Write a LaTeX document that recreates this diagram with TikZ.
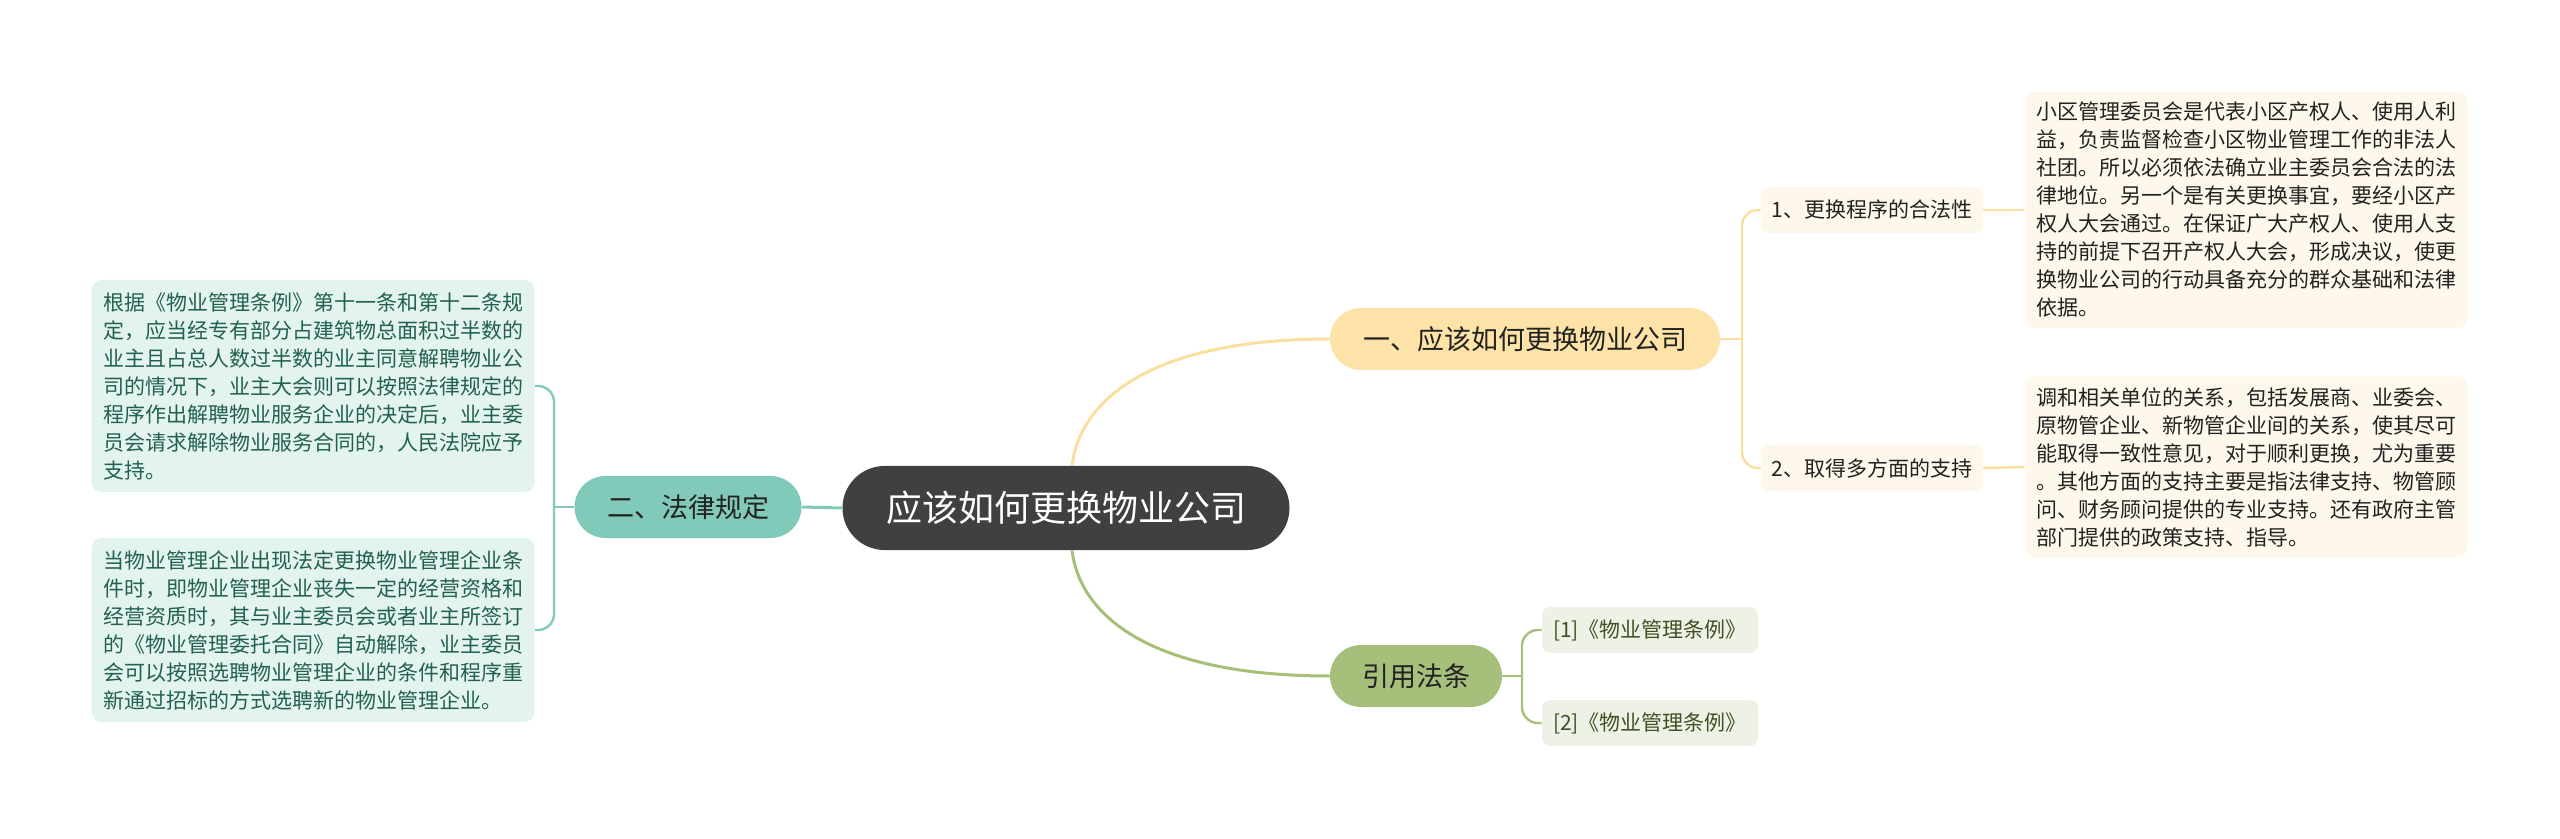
\documentclass[tikz,border=0pt]{standalone}
\usepackage{fontspec}
\setmainfont{Noto Sans CJK SC}

\definecolor{rootgray}{HTML}{404040}
\definecolor{textdark}{HTML}{222222}
\definecolor{yfill}{HTML}{FDE3A7}
\definecolor{yline}{HTML}{FADF9F}
\definecolor{ycream}{HTML}{FDF8EB}
\definecolor{tfill}{HTML}{81C9B9}
\definecolor{tbox}{HTML}{E3F3EF}
\definecolor{ttext}{HTML}{22614F}
\definecolor{gfill}{HTML}{A6BF7B}
\definecolor{gbox}{HTML}{EEF2E6}
\definecolor{gtext}{HTML}{3F5122}

\begin{document}
\begin{tikzpicture}[x=0.5pt, y=-0.5pt,
  rootnode/.style={fill=rootgray, text=white, rounded corners=21pt, minimum width=223.5pt,
    minimum height=42pt, inner sep=0pt, font=\fontsize{18}{22}\selectfont},
  branch/.style={rounded corners=15.5pt, minimum height=31pt, inner sep=0pt, text=textdark,
    font=\fontsize{13.5}{16}\selectfont},
  subtag/.style={rounded corners=4pt, minimum height=23pt, inner sep=0pt,
    font=\fontsize{10.5}{13}\selectfont},
  notebox/.style={rounded corners=5pt, text width=210pt, inner xsep=5.75pt, inner ysep=0pt,
    align=left, font=\fontsize{10.5}{14}\selectfont},
  ywire/.style={draw=yline, line width=#1},
  twire/.style={draw=tfill, line width=#1},
  gwire/.style={draw=gfill, line width=#1}]

\useasboundingbox (0,0) rectangle (2560,839);

% Centre and main branches
\node[rootnode] (root) at (1066,508) {应该如何更换物业公司};
\node[branch, fill=yfill, minimum width=195pt] (b1) at (1525,339) {一、应该如何更换物业公司};
\node[branch, fill=tfill, minimum width=113.5pt] (b2) at (688,507) {二、法律规定};
\node[branch, fill=gfill, minimum width=86pt] (b3) at (1416,676) {引用法条};

% Right side, upper branch
\node[subtag, fill=ycream, text=textdark, minimum width=111pt] (s1) at (1872,210) {1、更换程序的合法性};
\node[subtag, fill=ycream, text=textdark, minimum width=111pt] (s2) at (1872,468) {2、取得多方面的支持};
\node[notebox, fill=ycream, text=textdark, minimum height=118pt] (n1) at (2246,210) {%
小区管理委员会是代表小区产权人、使用人利\\
益，负责监督检查小区物业管理工作的非法人\\
社团。所以必须依法确立业主委员会合法的法\\
律地位。另一个是有关更换事宜，要经小区产\\
权人大会通过。在保证广大产权人、使用人支\\
持的前提下召开产权人大会，形成决议，使更\\
换物业公司的行动具备充分的群众基础和法律\\
依据。};
\node[notebox, fill=ycream, text=textdark, minimum height=90.5pt] (n2) at (2246,467) {%
调和相关单位的关系，包括发展商、业委会、\\
原物管企业、新物管企业间的关系，使其尽可\\
能取得一致性意见，对于顺利更换，尤为重要\\
。其他方面的支持主要是指法律支持、物管顾\\
问、财务顾问提供的专业支持。还有政府主管\\
部门提供的政策支持、指导。};

% Left side
\node[notebox, fill=tbox, text=ttext, minimum height=106pt] (n3) at (313,386) {%
根据《物业管理条例》第十一条和第十二条规\\
定，应当经专有部分占建筑物总面积过半数的\\
业主且占总人数过半数的业主同意解聘物业公\\
司的情况下，业主大会则可以按照法律规定的\\
程序作出解聘物业服务企业的决定后，业主委\\
员会请求解除物业服务合同的，人民法院应予\\
支持。};
\node[notebox, fill=tbox, text=ttext, minimum height=92pt] (n4) at (313,630) {%
当物业管理企业出现法定更换物业管理企业条\\
件时，即物业管理企业丧失一定的经营资格和\\
经营资质时，其与业主委员会或者业主所签订\\
的《物业管理委托合同》自动解除，业主委员\\
会可以按照选聘物业管理企业的条件和程序重\\
新通过招标的方式选聘新的物业管理企业。};

% Right side, lower branch
\node[subtag, fill=gbox, text=gtext, minimum width=108pt] (r1) at (1650,630) {[1]《物业管理条例》};
\node[subtag, fill=gbox, text=gtext, minimum width=108pt] (r2) at (1650,723) {[2]《物业管理条例》};

% Forks
\coordinate (f1) at (1742,339);
\coordinate (f2) at (554,507);
\coordinate (f3) at (1522,676);

% Connectors
\draw[ywire=1.5pt] ([xshift=3pt]root.north) .. controls +(8,-65) and +(-180,0) .. (b1.west);
\draw[gwire=1.5pt] ([xshift=3pt]root.south) .. controls +(8,65) and +(-180,0) .. (b3.west);
\draw[twire=1.5pt] (root.west) -- (b2.east);

\draw[ywire=1.2pt] (b1.east) -- (f1);
\draw[ywire=1.2pt, rounded corners=8pt] (s1.west) -| (f1) |- (s2.west);
\draw[ywire=1.2pt] (s1.east) -- (n1.west);
\draw[ywire=1.2pt] (s2.east) -- (n2.west);

\draw[twire=1.2pt] (b2.west) -- (f2);
\draw[twire=1.2pt, rounded corners=8pt] (n3.east) -| (f2) |- (n4.east);

\draw[gwire=1.2pt] (b3.east) -- (f3);
\draw[gwire=1.2pt, rounded corners=8pt] (r1.west) -| (f3) |- (r2.west);

\end{tikzpicture}
\end{document}
